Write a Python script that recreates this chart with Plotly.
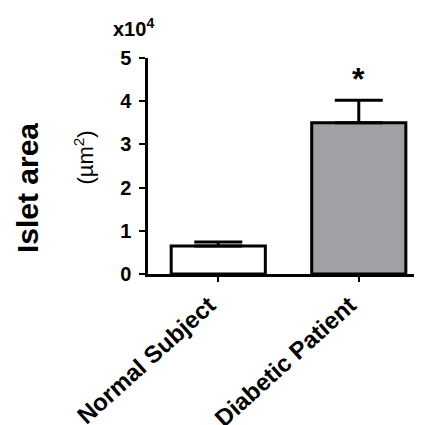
import plotly.graph_objects as go

categories = ["Normal Subject", "Diabetic Patient"]
islet_area_x1e4 = [0.648, 3.50]
sem_x1e4 = [0.09, 0.52]
bar_colors = ["#ffffff", "#a0a1a4"]
y_ticks = [0, 1, 2, 3, 4, 5]

FONT = "Liberation Sans, Arial, sans-serif"

# page body has an 8px default margin; plot area: x 148..422, y 58..274 in the window
fig = go.Figure()
fig.add_trace(go.Bar(
    x=categories,
    y=islet_area_x1e4,
    marker=dict(color=bar_colors, line=dict(color="black", width=3)),
    width=0.67,
    error_y=dict(type="data", array=sem_x1e4, arrayminus=[0, 0], symmetric=False,
                 color="black", thickness=3, width=24),
    showlegend=False,
))

fig.add_annotation(x=categories[1], y=islet_area_x1e4[1] + sem_x1e4[1],
                   text="*", showarrow=False, yshift=21,
                   font=dict(family=FONT, size=32, color="black", weight="bold"))

fig.add_annotation(xref="paper", yref="paper", x=-0.44, y=0.40,
                   text="Islet area", textangle=-90, showarrow=False,
                   xanchor="center", yanchor="middle",
                   font=dict(family=FONT, size=30, color="black", weight="bold"))
fig.add_annotation(xref="paper", yref="paper", x=-0.235, y=0.537,
                   text="(µm<sup>2</sup>)", textangle=-90, showarrow=False,
                   xanchor="center", yanchor="middle",
                   font=dict(family=FONT, size=22, color="black"))
fig.add_annotation(xref="paper", yref="paper", x=-0.053, y=1.143,
                   text="x10<sup>4</sup>", showarrow=False,
                   xanchor="center", yanchor="middle",
                   font=dict(family=FONT, size=20, color="black", weight="bold"))

fig.update_layout(
    width=414, height=417,
    margin=dict(l=140, r=0, t=50, b=151, autoexpand=False),
    plot_bgcolor="white", paper_bgcolor="white",
)
fig.update_xaxes(
    range=[-0.5, 1.45], showgrid=False, zeroline=False, automargin=False,
    showline=True, linecolor="black", linewidth=2.5,
    ticks="outside", ticklen=5, tickwidth=2, tickcolor="black",
    tickangle=-42, ticklabelshift=-9,
    tickfont=dict(family=FONT, size=24, color="black", weight="bold"),
)
fig.update_yaxes(
    range=[0, 5], tickvals=y_ticks, ticktext=[str(v) for v in y_ticks],
    showgrid=False, zeroline=False, automargin=False,
    showline=True, linecolor="black", linewidth=2.5,
    ticks="outside", ticklen=6, tickwidth=2, tickcolor="black",
    ticklabelstandoff=4,
    tickfont=dict(family=FONT, size=20, color="black", weight="bold"),
)

fig.write_html("out.html")
